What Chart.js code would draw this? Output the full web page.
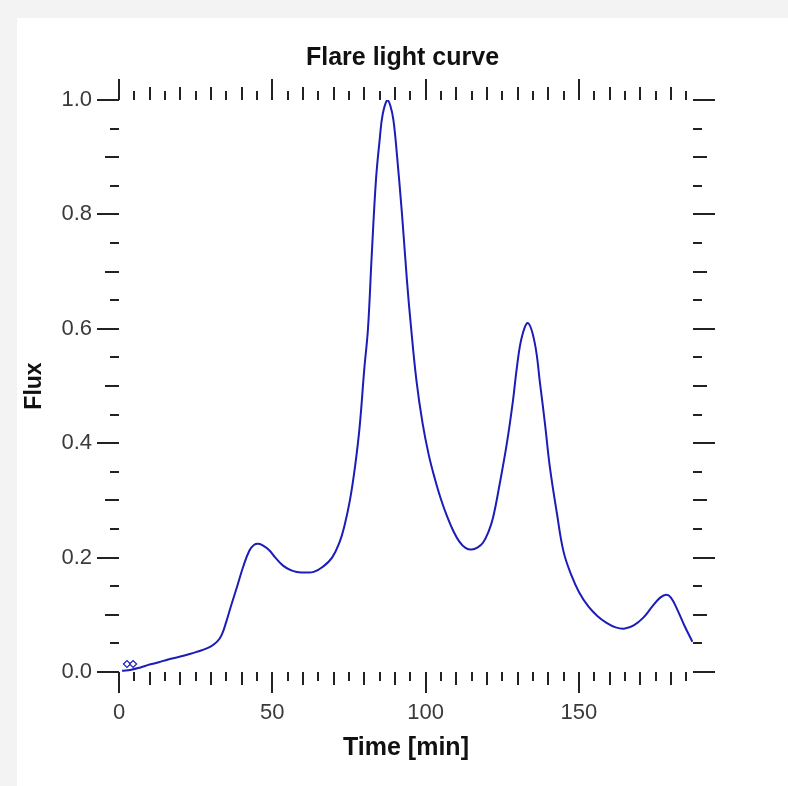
<!DOCTYPE html>
<html>
<head>
<meta charset="utf-8">
<script src="https://cdn.jsdelivr.net/npm/chart.js@4"></script>
<style>
  html, body { margin: 0; padding: 0; background: #f3f3f3; }
  #wrap { position: absolute; left: 17px; top: 18px; width: 771px; height: 768px; background: #ffffff; }
  canvas { display: block; }
</style>
</head>
<body>
<div id="wrap"><canvas id="c" width="771" height="768"></canvas></div>
<script>
// Light curve samples: time in minutes, normalised flux
const timeMin = [
  1, 4, 7, 10, 13, 16, 20, 24, 27, 30, 32, 33.5, 35, 36.5, 38.5, 40.5, 42.5, 44, 45.5, 47,
  49, 51, 53.5, 56, 58, 61, 63.5, 66.5, 69.5, 72, 73.5, 75.3, 77, 78.5, 80, 81.2, 82.4, 83.8,
  85, 86, 87.5, 88.5, 89.5, 90.6, 92.3, 93.9, 95.2, 97, 99, 101, 103, 105, 107, 109, 111,
  113, 115, 117, 118.7, 120.5, 122, 124.2, 126.5, 128.5, 129.8, 131.4, 133.4, 135.6, 137.3,
  138.9, 140.5, 142.8, 145, 147.7, 150, 153, 156, 159, 162, 165, 168, 171, 174, 176.5,
  178.5, 180, 182, 184.5, 187
];
const flux = [
  0.002, 0.004, 0.008, 0.013, 0.017, 0.022, 0.027, 0.033, 0.038, 0.045, 0.053, 0.065, 0.088,
  0.115, 0.149, 0.184, 0.212, 0.222, 0.224, 0.221,
  0.213, 0.200, 0.186, 0.178, 0.175, 0.174, 0.175, 0.184, 0.200, 0.228, 0.255, 0.300, 0.360,
  0.430, 0.530, 0.600, 0.726, 0.860,
  0.930, 0.975, 1.000, 0.990, 0.965, 0.907, 0.800, 0.685, 0.605, 0.510, 0.435, 0.380, 0.338,
  0.302, 0.272, 0.247, 0.228,
  0.217, 0.214, 0.218, 0.226, 0.245, 0.270, 0.330, 0.400, 0.475, 0.534, 0.586, 0.610, 0.575,
  0.505,
  0.435, 0.359, 0.278, 0.210, 0.167, 0.140, 0.115, 0.098, 0.086, 0.078, 0.076, 0.082, 0.095,
  0.115, 0.130,
  0.135, 0.130, 0.110, 0.080, 0.053
];
// Two individually marked samples at the start of the record
const markerTime = [2.6, 4.6];
const markerFlux = [0.014, 0.014];

// Axis ticks and labels
const xTickValues = [0, 50, 100, 150];
const xTickLabels = ['0', '50', '100', '150'];
const yTickValues = [0, 0.2, 0.4, 0.6, 0.8, 1.0];
const yTickLabels = ['0.0', '0.2', '0.4', '0.6', '0.8', '1.0'];
const xMinorStep = 5, xMediumStep = 10;
const yMinorStep = 0.05, yMediumStep = 0.1;

const INK = '#222222';
const LINE = '#1c1cb8';
const FONT = '"Liberation Sans", Arial, sans-serif';

// Outward-pointing tick marks on all four sides of the plot box
const boxTicks = {
  id: 'boxTicks',
  afterDraw(chart) {
    const { ctx, chartArea: a, scales: { x, y } } = chart;
    ctx.save();
    ctx.strokeStyle = INK;
    ctx.lineWidth = 2;
    ctx.beginPath();
    const nx = Math.floor((x.max - x.min) / xMinorStep + 1e-6);
    for (let i = 0; i <= nx; i++) {
      const v = x.min + i * xMinorStep;
      const px = Math.round(x.getPixelForValue(v));
      const major = xTickValues.some(t => Math.abs(t - v) < 1e-6);
      const medium = Math.abs(v / xMediumStep - Math.round(v / xMediumStep)) < 1e-6;
      const len = major ? 21 : (medium ? 13 : 9);
      ctx.moveTo(px, a.bottom); ctx.lineTo(px, a.bottom + len);
      ctx.moveTo(px, a.top); ctx.lineTo(px, a.top - len);
    }
    const ny = Math.round((y.max - y.min) / yMinorStep);
    for (let i = 0; i <= ny; i++) {
      const v = y.min + i * yMinorStep;
      const py = Math.round(y.getPixelForValue(v));
      const major = yTickValues.some(t => Math.abs(t - v) < 1e-6);
      const medium = Math.abs(v / yMediumStep - Math.round(v / yMediumStep)) < 1e-6;
      const len = major ? 22 : (medium ? 14 : 9);
      ctx.moveTo(a.left, py); ctx.lineTo(a.left - len, py);
      ctx.moveTo(a.right, py); ctx.lineTo(a.right + len, py);
    }
    ctx.stroke();
    ctx.restore();
  }
};

new Chart(document.getElementById('c'), {
  type: 'line',
  data: {
    datasets: [
      {
        label: 'Flux',
        data: timeMin.map((t, i) => ({ x: t, y: flux[i] })),
        borderColor: LINE,
        borderWidth: 2,
        pointRadius: 0,
        fill: false,
        tension: 0.4
      },
      {
        label: 'Marked samples',
        data: markerTime.map((t, i) => ({ x: t, y: markerFlux[i] })),
        showLine: false,
        pointStyle: 'rectRot',
        pointRadius: 3.5,
        pointBackgroundColor: '#ffffff',
        pointBorderColor: LINE,
        pointBorderWidth: 1.2
      }
    ]
  },
  options: {
    responsive: false,
    animation: false,
    layout: { padding: 0 },
    plugins: {
      legend: { display: false },
      tooltip: { enabled: false },
      title: {
        display: true,
        text: 'Flare light curve',
        color: '#111111',
        font: { family: FONT, size: 25, weight: 'bold' },
        padding: { top: 25, bottom: 27 }
      }
    },
    scales: {
      x: {
        type: 'linear',
        min: 0,
        max: 187.2,
        afterBuildTicks: s => { s.ticks = xTickValues.map(v => ({ value: v })); },
        afterFit: s => { s.height = 114; },
        border: { display: false },
        grid: { display: false, drawTicks: false },
        ticks: {
          padding: 28,
          color: '#3a3a3a',
          font: { family: FONT, size: 22 },
          callback: (v) => xTickLabels[xTickValues.indexOf(v)]
        },
        title: {
          display: true,
          text: 'Time [min]',
          color: '#111111',
          font: { family: FONT, size: 25, weight: 'bold' },
          padding: { top: 0, bottom: 23 }
        }
      },
      y: {
        type: 'linear',
        min: 0,
        max: 1,
        afterBuildTicks: s => { s.ticks = yTickValues.map(v => ({ value: v })); },
        afterFit: s => { s.width = 102; },
        border: { display: false },
        grid: { display: false, drawTicks: false },
        ticks: {
          padding: 27,
          color: '#3a3a3a',
          font: { family: FONT, size: 22 },
          callback: (v) => yTickLabels[yTickValues.indexOf(v)]
        },
        title: {
          display: true,
          text: 'Flux',
          color: '#111111',
          font: { family: FONT, size: 23, weight: 'bold' },
          padding: { top: 4, bottom: 0 }
        }
      },
      yRight: {
        type: 'linear',
        position: 'right',
        min: 0,
        max: 1,
        afterFit: s => { s.width = 95; },
        border: { display: false },
        grid: { display: false, drawTicks: false },
        ticks: { display: false }
      }
    }
  },
  plugins: [boxTicks]
});
</script>
</body>
</html>
